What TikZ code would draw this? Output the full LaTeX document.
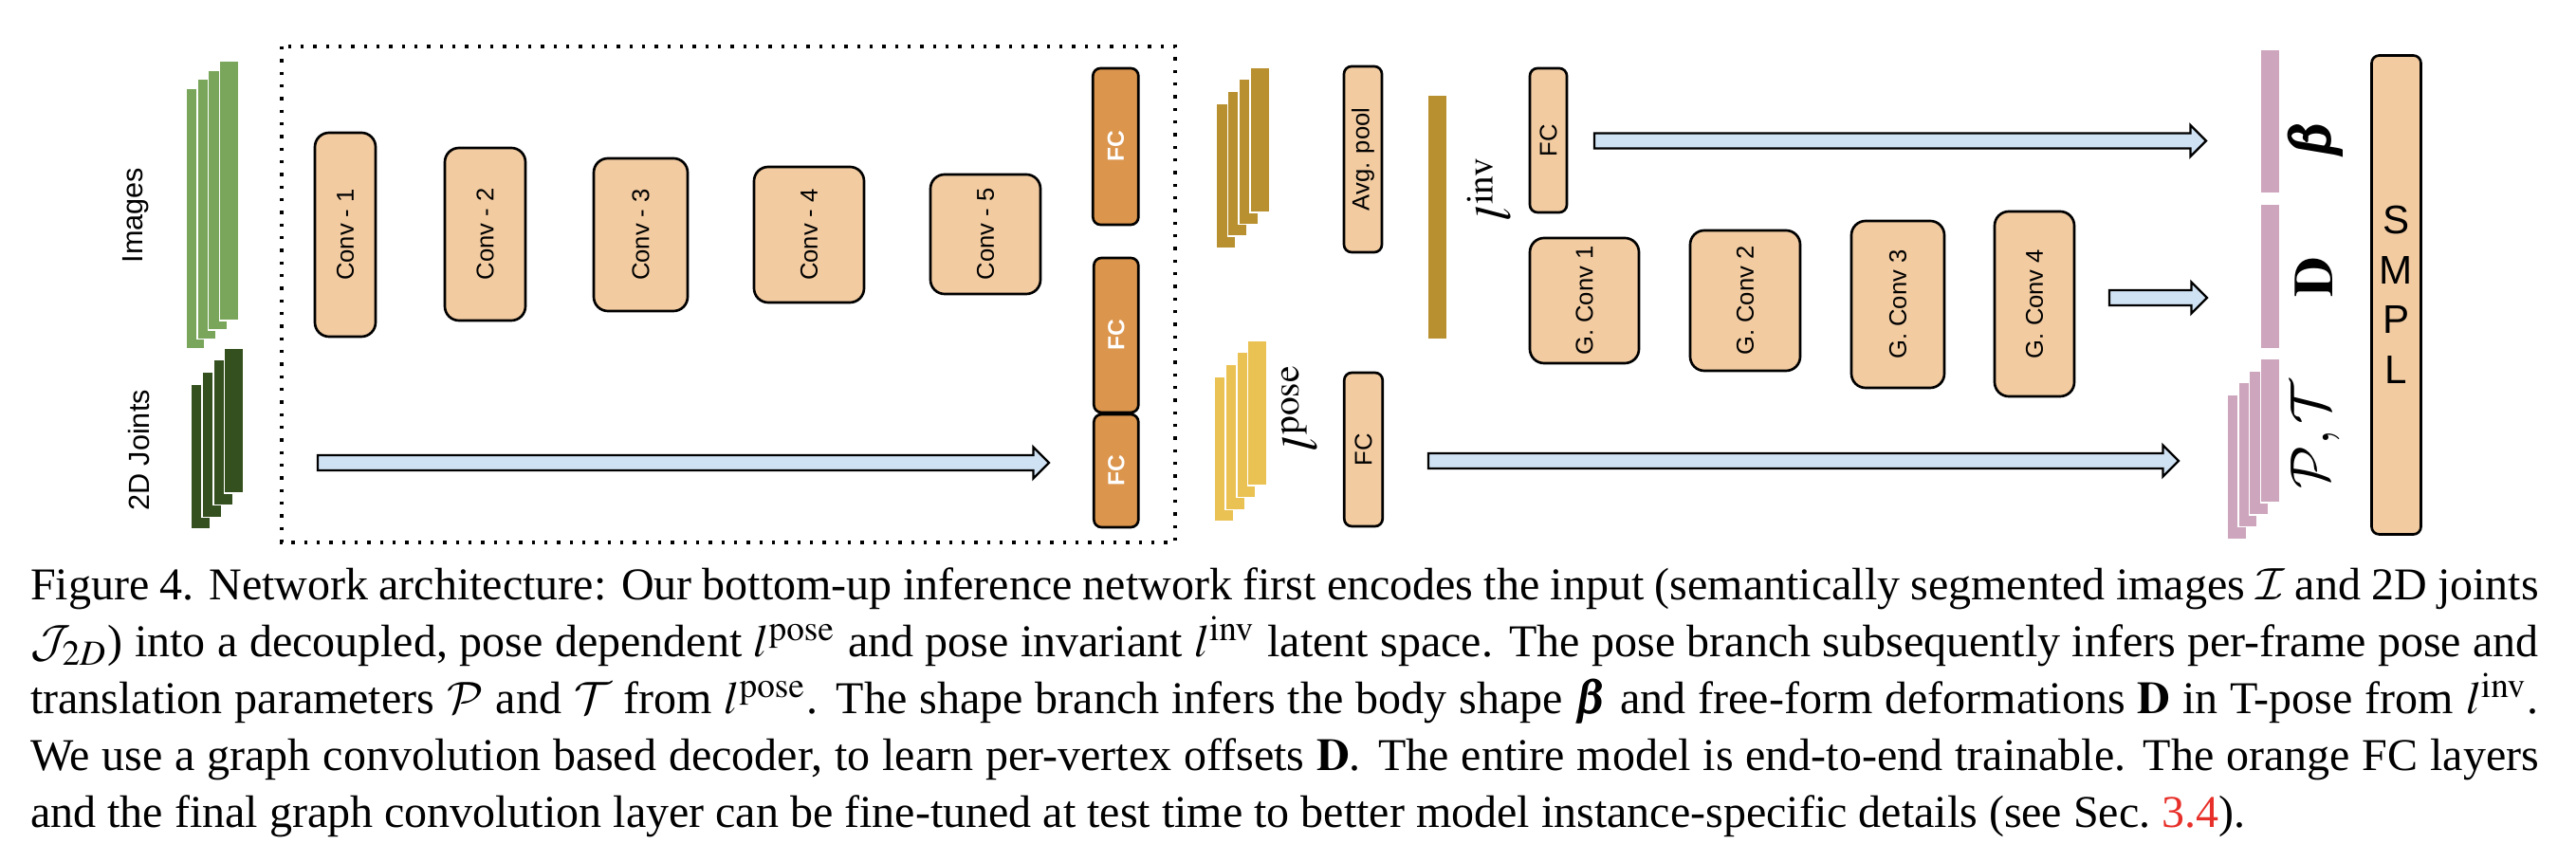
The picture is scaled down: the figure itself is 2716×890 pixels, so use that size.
\documentclass[tikz,border=0pt]{standalone}
\usepackage{graphicx}
\usepackage{mathptmx}
\usepackage{bm}
\usepackage{fontspec}
\setmainfont{Liberation Serif}
\setsansfont{Liberation Sans}
\DeclareMathAlphabet{\mathcal}{OMS}{cmsy}{m}{n}
\usetikzlibrary{calc}
\definecolor{peach}{HTML}{F2CBA1}
\definecolor{fcorange}{HTML}{DB954D}
\definecolor{lblue}{HTML}{CFE2F3}
\definecolor{lgreen}{HTML}{79A65A}
\definecolor{dgreen}{HTML}{34501F}
\definecolor{goldd}{HTML}{B8902F}
\definecolor{goldl}{HTML}{EAC253}
\definecolor{pinkb}{HTML}{CDA6BD}
\definecolor{linkred}{HTML}{E8302A}
\newcommand{\blkarr}[2]{\draw[barrow] ($(#1)+(0,-8)$) -- ($(#2)+(-16.5,-8)$) -- ($(#2)+(-16.5,-16.5)$) -- (#2) -- ($(#2)+(-16.5,16.5)$) -- ($(#2)+(-16.5,8)$) -- ($(#1)+(0,8)$) -- cycle;}
\begin{document}
\begin{tikzpicture}[x=0.1875pt,y=-0.1875pt,
  dims/.style 2 args={minimum width=#1*0.1875pt, minimum height=#2*0.1875pt},
  convbox/.style={draw=black, line width=0.5pt, rounded corners=2.8pt, inner sep=0pt, fill=peach,
    font=\sffamily\fontsize{4.8}{5}\selectfont},
  smallbox/.style={convbox, rounded corners=1.5pt},
  fcdark/.style={smallbox, fill=fcorange, text=white, font=\sffamily\bfseries\fontsize{4.6}{5}\selectfont},
  barrow/.style={fill=lblue, draw=black, line width=0.45pt, line join=miter},
  barw/.style={draw=white, line width=0.3pt},
  sidelab/.style={font=\sffamily\fontsize{5.75}{6}\selectfont, rotate=90, inner sep=0pt},
  mathlab/.style={font=\fontsize{10}{12}\selectfont, rotate=90, inner sep=0pt},
  outlab/.style={font=\fontsize{11}{13}\selectfont, rotate=90, inner sep=0pt}]
\fill[white] (0,0) rectangle (2716,890);
\useasboundingbox (0,0) rectangle (2716,890);

% dotted encoder frame
\draw[line width=0.6pt, dash pattern=on 0.6pt off 1.9pt] (297,49) rectangle (1239,572);

% input stacks
\foreach \i in {3,2,1,0} \filldraw[fill=lgreen, barw] ({231.3-11.7*\i},{64+9.8*\i}) rectangle ++(20,274);
\foreach \i in {3,2,1,0} \filldraw[fill=dgreen, barw] ({236.5-11.7*\i},{367+12.7*\i}) rectangle ++(20.5,153);
\node[sidelab] (timg) at (143,227) {Images};
\node[sidelab] (tjoints) at (147,475) {2D Joints};

% conv encoder
\node[convbox, dims={64}{215}] (c1) at (364,247.5) {\rotatebox{90}{Conv - 1}};
\node[convbox, dims={85}{182}] (c2) at (511.5,247) {\rotatebox{90}{Conv - 2}};
\node[convbox, dims={99}{161}] (c3) at (675.5,247.5) {\rotatebox{90}{Conv - 3}};
\node[convbox, dims={116}{143}] (c4) at (853,247.5) {\rotatebox{90}{Conv - 4}};
\node[convbox, dims={116}{126}] (c5) at (1039,247) {\rotatebox{90}{Conv - 5}};

\node[fcdark, dims={48}{165}] (fc1) at (1176.3,154.5) {\rotatebox{90}{FC}};
\node[fcdark, dims={47}{163}] (fc2) at (1176.8,353.5) {\rotatebox{90}{FC}};
\node[fcdark, dims={47}{119}] (fc3) at (1176.8,496.5) {\rotatebox{90}{FC}};

\coordinate (a1s) at (335,488);
\coordinate (a1e) at (1106,488);
\blkarr{a1s}{a1e}

% latent stacks
\foreach \i in {3,2,1,0} \filldraw[fill=goldd, barw] ({1317.7-11.7*\i},{71+12.6*\i}) rectangle ++(20.6,153);
\foreach \i in {3,2,1,0} \filldraw[fill=goldl, barw] ({1315.5-11.7*\i},{359+12.7*\i}) rectangle ++(20.3,153);
\filldraw[fill=goldd, barw] (1505.5,100) rectangle (1525.6,358);

\node[smallbox, dims={40}{196}] (avg) at (1437,168) {\rotatebox{90}{Avg. pool}};
\node[smallbox, dims={40.5}{162}] (fcp) at (1437.5,474) {\rotatebox{90}{FC}};
\node[smallbox, dims={39}{152}] (fci) at (1632.5,148) {\rotatebox{90}{FC}};
\node[mathlab] (linv) at (1570,199) {$l^{\mathrm{inv}}$};
\node[mathlab] (lpose) at (1370,430) {$l^{\mathrm{pose}}$};

% graph conv decoder
\node[convbox, dims={115}{132}] (g1) at (1670.5,317) {\rotatebox{90}{G. Conv 1}};
\node[convbox, dims={116}{148}] (g2) at (1840,317) {\rotatebox{90}{G. Conv 2}};
\node[convbox, dims={98}{176}] (g3) at (2001,321) {\rotatebox{90}{G. Conv 3}};
\node[convbox, dims={84}{195}] (g4) at (2145,320.5) {\rotatebox{90}{G. Conv 4}};

\coordinate (a2s) at (1681,148.5);
\coordinate (a2e) at (2326,148.5);
\blkarr{a2s}{a2e}
\coordinate (a3s) at (2224,314);
\coordinate (a3e) at (2327,314);
\blkarr{a3s}{a3e}
\coordinate (a4s) at (1506,486);
\coordinate (a4e) at (2297,486);
\blkarr{a4s}{a4e}

% outputs
\filldraw[fill=pinkb, barw] (2383.5,52.6) rectangle (2404,204);
\filldraw[fill=pinkb, barw] (2383.5,215.5) rectangle (2404,368);
\foreach \i in {3,2,1,0} \filldraw[fill=pinkb, barw] ({2383.5-11.9*\i},{378+12.8*\i}) rectangle ++(20.5,152);
\node[outlab] (tbeta) at (2441,146) {$\bm{\beta}$};
\node[outlab] (tD) at (2440,292) {$\mathbf{D}$};
\node[outlab] (tPT) at (2441,458) {$\mathcal{P},\mathcal{T}$};

\node[smallbox, dims={52}{505}, align=center, font=\sffamily\fontsize{7.9}{9.86}\selectfont] (smpl) at (2526.5,311) {S\\M\\P\\L};

% caption
\node[anchor=north west, inner sep=0pt, text width=495.9pt, align=justify, font=\fontsize{9}{11.25}\selectfont] (cap) at (31,598) {Figure 4. Network architecture: Our bottom-up inference network first encodes the input (semantically segmented images $\mathcal{I}$ and 2D joints\linebreak
$\mathcal{J}_{2D}$) into a decoupled, pose dependent $l^{\mathrm{pose}}$ and pose invariant $l^{\mathrm{inv}}$ latent space. The pose branch subsequently infers per-frame pose and\linebreak
translation parameters $\mathcal{P}$ and $\mathcal{T}$ from $l^{\mathrm{pose}}$. The shape branch infers the body shape $\bm{\beta}$ and free-form deformations $\mathbf{D}$ in T-pose from $l^{\mathrm{inv}}$.\linebreak
We use a graph convolution based decoder, to learn per-vertex offsets $\mathbf{D}$. The entire model is end-to-end trainable. The orange FC layers\linebreak
and the final graph convolution layer can be fine-tuned at test time to better model instance-specific details (see Sec.~\textcolor{linkred}{3.4}).};
\end{tikzpicture}
\end{document}
